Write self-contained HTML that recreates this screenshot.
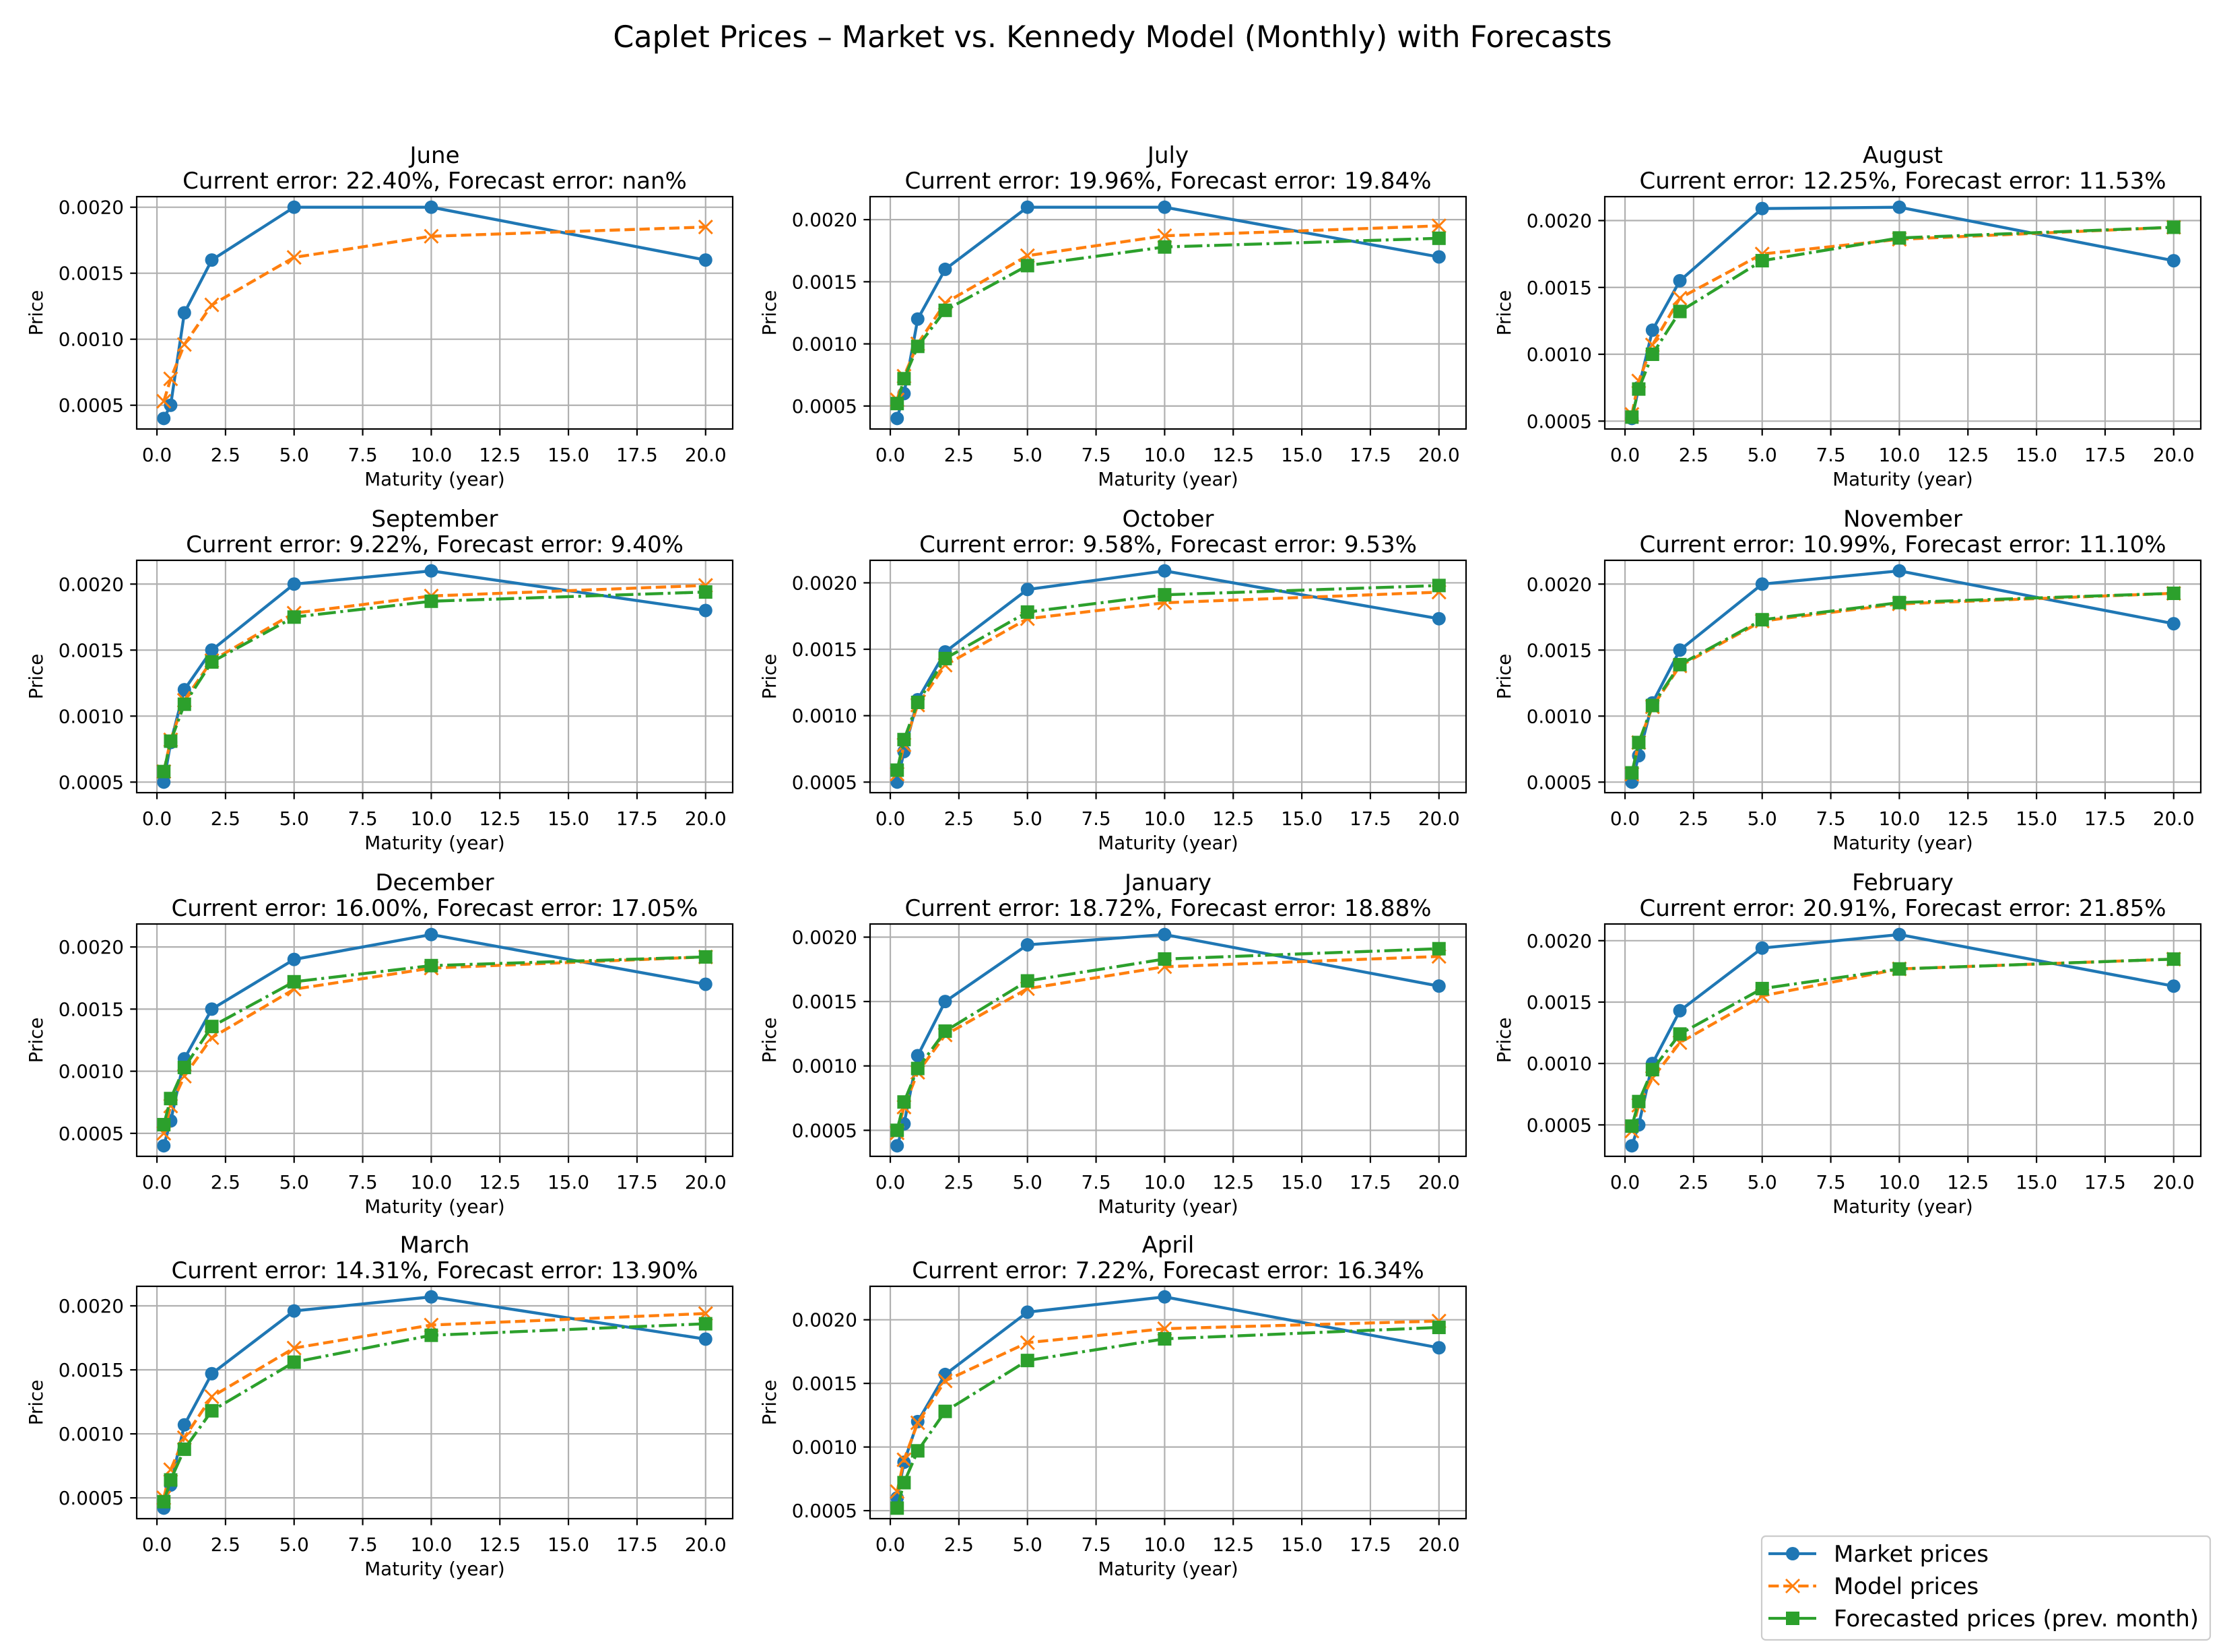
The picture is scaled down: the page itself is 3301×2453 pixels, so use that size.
<!DOCTYPE html>
<html><head><meta charset="utf-8"><title>Caplet Prices</title>
<style>
html,body{margin:0;padding:0;background:#fff;}
svg{display:block;font-family:"DejaVu Sans","Liberation Sans",sans-serif;}
</style></head>
<body>
<svg id="fig" xmlns="http://www.w3.org/2000/svg" width="3301" height="2453" viewBox="0 0 3301 2453">
<rect x="0" y="0" width="3301" height="2453" fill="#fff"/>
<text x="1652" y="70" font-size="44.4" text-anchor="middle" fill="#000">Caplet Prices – Market vs. Kennedy Model (Monthly) with Forecasts</text>
<g id="plots"></g>
<g>
<rect x="2616" y="2281" width="666" height="154" rx="6" fill="#fff" fill-opacity="0.8" stroke="#cccccc" stroke-width="2.2"/>
<g>
<line x1="2626" y1="2307" x2="2697" y2="2307" stroke="#1f77b4" stroke-width="4.2"/>
<circle cx="2662" cy="2307" r="10" fill="#1f77b4"/>
<text x="2723" y="2319" font-size="34">Market prices</text></g>
<g>
<line x1="2626" y1="2355" x2="2697" y2="2355" stroke="#ff7f0e" stroke-width="4.2" stroke-dasharray="15.4,6.7"/>
<path d="M2652,2345 L2672,2365 M2652,2365 L2672,2345" stroke="#ff7f0e" stroke-width="2.8"/>
<text x="2723" y="2367" font-size="34">Model prices</text></g>
<g>
<line x1="2626" y1="2403" x2="2697" y2="2403" stroke="#2ca02c" stroke-width="4.2" stroke-dasharray="26.7,6.7,4.2,6.7"/>
<rect x="2652" y="2393" width="20" height="20" fill="#2ca02c"/>
<text x="2723" y="2415" font-size="34">Forecasted prices (prev. month)</text></g>
</g>
</svg>
<script>
const maturities = [0.25, 0.5, 1, 2, 5, 10, 20];
const months = ["June","July","August","September","October","November","December","January","February","March","April"];
const currentErrors = ["22.40%","19.96%","12.25%","9.22%","9.58%","10.99%","16.00%","18.72%","20.91%","14.31%","7.22%"];
const forecastErrors = ["nan%","19.84%","11.53%","9.40%","9.53%","11.10%","17.05%","18.88%","21.85%","13.90%","16.34%"];
const marketPrices = [
 [0.00040,0.00050,0.00120,0.00160,0.00200,0.00200,0.00160],
 [0.00040,0.00060,0.00120,0.00160,0.00210,0.00210,0.00170],
 [0.00052,0.00075,0.00118,0.00155,0.00209,0.00210,0.00170],
 [0.00050,0.00080,0.00120,0.00150,0.00200,0.00210,0.00180],
 [0.00050,0.00073,0.00112,0.00148,0.00195,0.00209,0.00173],
 [0.00050,0.00070,0.00110,0.00150,0.00200,0.00210,0.00170],
 [0.00040,0.00060,0.00110,0.00150,0.00190,0.00210,0.00170],
 [0.00038,0.00055,0.00108,0.00150,0.00194,0.00202,0.00162],
 [0.00033,0.00050,0.00100,0.00143,0.00194,0.00205,0.00163],
 [0.00042,0.00060,0.00107,0.00147,0.00196,0.00207,0.00174],
 [0.00060,0.00088,0.00120,0.00157,0.00206,0.00218,0.00178]
];
const modelPrices = [
 [0.00053,0.00070,0.00096,0.00126,0.00162,0.00178,0.00185],
 [0.00055,0.00074,0.00100,0.00133,0.00171,0.00187,0.00195],
 [0.00055,0.00080,0.00107,0.00142,0.00175,0.00186,0.00195],
 [0.00058,0.00082,0.00112,0.00142,0.00178,0.00191,0.00199],
 [0.00056,0.00078,0.00108,0.00138,0.00173,0.00185,0.00193],
 [0.00056,0.00080,0.00107,0.00138,0.00172,0.00185,0.00193],
 [0.00050,0.00072,0.00096,0.00127,0.00166,0.00183,0.00192],
 [0.00048,0.00068,0.00095,0.00124,0.00160,0.00177,0.00185],
 [0.00045,0.00066,0.00088,0.00117,0.00155,0.00177,0.00185],
 [0.00050,0.00072,0.00097,0.00129,0.00167,0.00185,0.00194],
 [0.00065,0.00090,0.00119,0.00152,0.00182,0.00193,0.00199]
];
const forecastPrices = [
 null,
 [0.00052,0.00072,0.00098,0.00127,0.00163,0.00178,0.00185],
 [0.00053,0.00074,0.00100,0.00132,0.00170,0.00187,0.00195],
 [0.00058,0.00081,0.00109,0.00141,0.00175,0.00187,0.00194],
 [0.00059,0.00082,0.00110,0.00143,0.00178,0.00191,0.00198],
 [0.00057,0.00080,0.00108,0.00139,0.00173,0.00186,0.00193],
 [0.00057,0.00078,0.00103,0.00136,0.00172,0.00185,0.00192],
 [0.00050,0.00072,0.00098,0.00127,0.00166,0.00183,0.00191],
 [0.00049,0.00069,0.00095,0.00124,0.00161,0.00177,0.00185],
 [0.00047,0.00064,0.00088,0.00118,0.00156,0.00177,0.00186],
 [0.00052,0.00072,0.00097,0.00128,0.00168,0.00185,0.00194]
];
const xTicks = [0,2.5,5,7.5,10,12.5,15,17.5,20];
const xTickLabels = ["0.0","2.5","5.0","7.5","10.0","12.5","15.0","17.5","20.0"];
const yTicks = [0.0005,0.0010,0.0015,0.0020];
const yTickLabels = ["0.0005","0.0010","0.0015","0.0020"];

const NS="http://www.w3.org/2000/svg";
const root=document.getElementById('plots');
function mk(tag,attrs,parent){const e=document.createElementNS(NS,tag);for(const k in attrs)e.setAttribute(k,attrs[k]);parent.appendChild(e);return e;}
const colLeft=[203,1292,2383], rowTop=[292,832,1372,1910], W=885, H=345;

months.forEach((m,i)=>{
 const L=colLeft[i%3], T=rowTop[Math.floor(i/3)];
 const g=mk('g',{},root);
 
 
 const xmin0=Math.min(...maturities), xmax0=Math.max(...maturities), xm=(xmax0-xmin0)*0.05;
 const X0=xmin0-xm, X1=xmax0+xm;
 const all=[...marketPrices[i],...modelPrices[i],...(forecastPrices[i]||[])];
 const ymin0=Math.min(...all), ymax0=Math.max(...all), ym=(ymax0-ymin0)*0.05;
 const Y0=ymin0-ym, Y1=ymax0+ym;
 const sx=v=>L+(v-X0)/(X1-X0)*W;
 const sy=v=>T+H-(v-Y0)/(Y1-Y0)*H;
 xTicks.forEach((t,k)=>{
  const x=sx(t);
  const gl=mk('line',{x1:x,y1:T,x2:x,y2:T+H,stroke:'#b0b0b0','stroke-width':2.2},g);
  
  
  mk('line',{x1:x,y1:T+H,x2:x,y2:T+H+9.7,stroke:'#000','stroke-width':2.2},g);
  const tl=mk('text',{x:x,y:T+H+48,'font-size':27.8,'text-anchor':'middle'},g);
  tl.textContent=xTickLabels[k];
  
  
 });
 yTicks.forEach((t,k)=>{
  if(t<Y0||t>Y1)return;
  const y=sy(t);
  const gl=mk('line',{x1:L,y1:y,x2:L+W,y2:y,stroke:'#b0b0b0','stroke-width':2.2},g);
  
  
  mk('line',{x1:L-9.7,y1:y,x2:L,y2:y,stroke:'#000','stroke-width':2.2},g);
  const tl=mk('text',{x:L-19,y:y+10,'font-size':27.8,'text-anchor':'end'},g);
  tl.textContent=yTickLabels[k];
  
  
 });
 const pts=a=>a.map((v,k)=>sx(maturities[k])+','+sy(v)).join(' ');
 const s1=mk('polyline',{points:pts(marketPrices[i]),fill:'none',stroke:'#1f77b4','stroke-width':4.4,'stroke-linejoin':'round'},g);
 
 
 marketPrices[i].forEach((v,k)=>{
  const c=mk('circle',{cx:sx(maturities[k]),cy:sy(v),r:10,fill:'#1f77b4'},g);
  
  
 });
 const s2=mk('polyline',{points:pts(modelPrices[i]),fill:'none',stroke:'#ff7f0e','stroke-width':4.4,'stroke-dasharray':'15.4,6.7'},g);
 
 
 modelPrices[i].forEach((v,k)=>{
  const x=sx(maturities[k]),y=sy(v);
  const p=mk('path',{d:`M${x-10},${y-10} L${x+10},${y+10} M${x-10},${y+10} L${x+10},${y-10}`,stroke:'#ff7f0e','stroke-width':3},g);
  
  
 });
 if(forecastPrices[i]){
  const s3=mk('polyline',{points:pts(forecastPrices[i]),fill:'none',stroke:'#2ca02c','stroke-width':4.4,'stroke-dasharray':'26.7,6.7,4.2,6.7'},g);
  
  
  forecastPrices[i].forEach((v,k)=>{
   const r=mk('rect',{x:sx(maturities[k])-10,y:sy(v)-10,width:20,height:20,fill:'#2ca02c'},g);
   
   
  });
 }
 const fr=mk('rect',{x:L,y:T,width:W,height:H,fill:'none',stroke:'#000','stroke-width':2.2},g);
 
 
 const t1=mk('text',{x:L+W/2,y:T-50,'font-size':34,'text-anchor':'middle'},g);
 t1.textContent=m;
 
 
 const t2=mk('text',{x:L+W/2,y:T-12,'font-size':34,'text-anchor':'middle'},g);
 t2.textContent='Current error: '+currentErrors[i]+', Forecast error: '+forecastErrors[i];
 
 
 const xl=mk('text',{x:L+W/2,y:T+H+84,'font-size':27.8,'text-anchor':'middle'},g);
 xl.textContent='Maturity (year)';
 
 
 const yl=mk('text',{x:0,y:0,'font-size':27.8,'text-anchor':'middle',transform:`translate(${L-140},${T+H/2}) rotate(-90)`},g);
 yl.textContent='Price';
 
 
});
</script>
</body></html>
